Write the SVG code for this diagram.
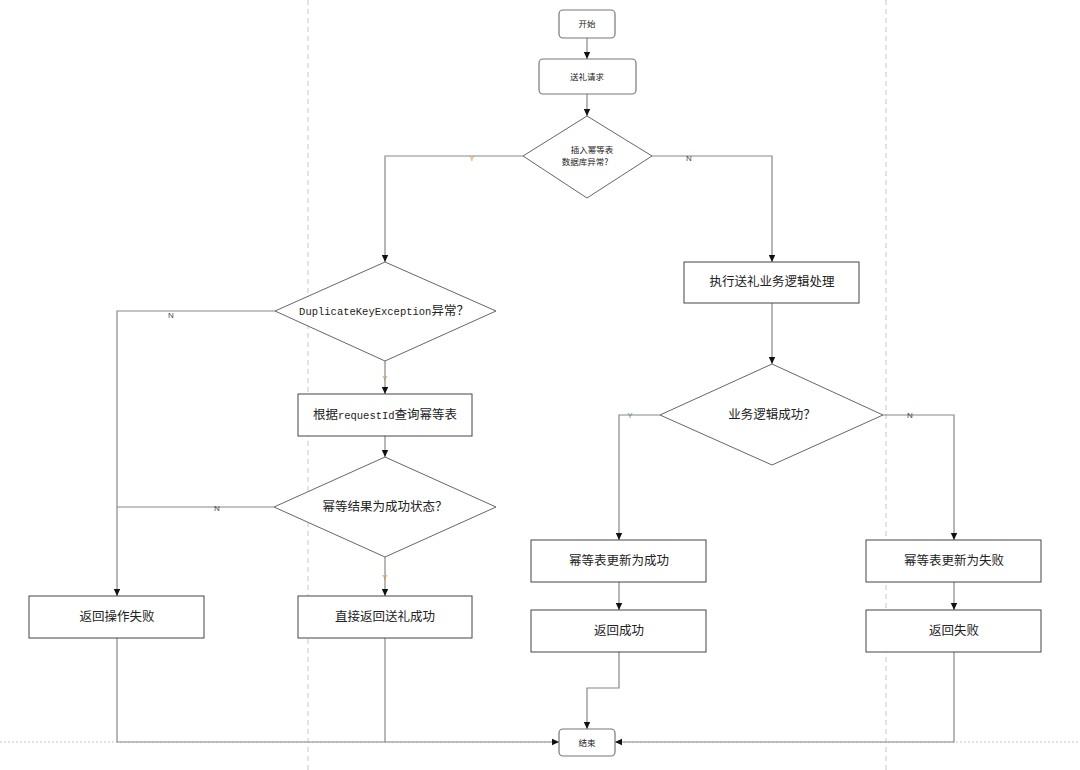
<svg xmlns="http://www.w3.org/2000/svg" width="1080" height="770" viewBox="0 0 1080 770">
<defs>
<marker id="ah" markerWidth="8" markerHeight="8" refX="7" refY="4" orient="auto" markerUnits="userSpaceOnUse">
<path d="M0,0.8 L7,4 L0,7.2 Z" fill="#111"/>
</marker>
<style>
.bg{fill:#fff}
.guide{stroke:#c8c8c8;stroke-width:1;stroke-dasharray:5,4;fill:none}
.hguide{stroke:#c8c8c8;stroke-width:1;stroke-dasharray:2,2;fill:none}
.rr{fill:#fff;stroke:#777;stroke-width:1.2}
.box{fill:#fff;stroke:#444;stroke-width:1}
.dia{fill:#fff;stroke:#666;stroke-width:1}
.c{fill:none;stroke:#888;stroke-width:1.2}
.ca{fill:none;stroke:#888;stroke-width:1.2;marker-end:url(#ah)}
.t{font-family:"Noto Sans CJK SC","Liberation Sans",sans-serif;font-size:12.5px;fill:#222;text-anchor:middle}
.ts{font-family:"Noto Sans CJK SC","Liberation Sans",sans-serif;font-size:8.5px;fill:#222;text-anchor:middle}
.m{font-family:"Liberation Mono",monospace;font-size:10.5px}
.y{font-family:"Liberation Sans",sans-serif;font-size:8px;fill:#d0902a;text-anchor:middle}
.n{font-family:"Liberation Sans",sans-serif;font-size:8px;fill:#2f4f3f;text-anchor:middle}
</style>
</defs>
<rect class="bg" x="0" y="0" width="1080" height="770"/>
<line class="guide" x1="308" y1="0" x2="308" y2="770"/>
<line class="guide" x1="886" y1="0" x2="886" y2="770"/>
<line class="hguide" x1="0" y1="742" x2="1080" y2="742"/>

<g id="connectors">
<line class="ca" x1="587" y1="38" x2="587" y2="59"/>
<line class="ca" x1="587" y1="94" x2="587" y2="116"/>
<polyline class="ca" points="523,156 385,156 385,262"/>
<polyline class="ca" points="652,156 772,156 772,262"/>
<polyline class="ca" points="275,311 117,311 117,596"/>
<line class="ca" x1="385" y1="361" x2="385" y2="394"/>
<line class="ca" x1="385" y1="436" x2="385" y2="457"/>
<polyline class="c" points="274,507 117,507"/>
<line class="ca" x1="385" y1="557" x2="385" y2="596"/>
<line class="ca" x1="772" y1="303" x2="772" y2="364"/>
<polyline class="ca" points="660,415 619,415 619,540"/>
<polyline class="ca" points="883,415 954,415 954,540"/>
<line class="ca" x1="619" y1="582" x2="619" y2="610"/>
<line class="ca" x1="954" y1="582" x2="954" y2="610"/>
<polyline class="ca" points="619,652 619,688 587,688 587,729"/>
<polyline class="ca" points="117,638 117,742 559,742"/>
<polyline class="c" points="385,638 385,742"/>
<polyline class="ca" points="954,652 954,742 615,742"/>
<text class="y" x="472" y="161">Y</text>
<text class="n" x="689" y="161">N</text>
<text class="n" x="171" y="318">N</text>
<text class="y" x="385" y="381">Y</text>
<text class="n" x="217" y="511">N</text>
<text class="y" x="385" y="580">Y</text>
<text class="y" x="630" y="418" style="fill:#4a8ab0">Y</text>
<text class="n" x="910" y="418">N</text>
</g>

<g id="start"><rect class="rr" x="559" y="10" width="56" height="28" rx="4"/><text class="ts" x="587" y="27">开始</text></g>
<g id="request"><rect class="rr" x="539" y="59" width="97" height="35" rx="4"/><text class="ts" x="587" y="80">送礼请求</text></g>
<g id="d1"><polygon class="dia" points="587,116 652,156 587,198 523,156"/><text class="ts" x="592" y="153">插入幂等表</text><text class="ts" x="585" y="165">数据库异常?</text></g>
<g id="exec"><rect class="box" x="684" y="262" width="175" height="41"/><text class="t" x="772" y="286">执行送礼业务逻辑处理</text></g>
<g id="d2"><polygon class="dia" points="385,262 496,311 385,361 275,311"/><text class="t" x="384" y="315"><tspan class="m">DuplicateKeyException</tspan>异常？</text></g>
<g id="query"><rect class="box" x="298" y="394" width="174" height="42"/><text class="t" x="385" y="419">根据<tspan class="m">requestId</tspan>查询幂等表</text></g>
<g id="d3"><polygon class="dia" points="385,457 496,507 385,557 274,507"/><text class="t" x="385" y="511">幂等结果为成功状态？</text></g>
<g id="fail"><rect class="box" x="29" y="596" width="175" height="42"/><text class="t" x="117" y="621">返回操作失败</text></g>
<g id="direct"><rect class="box" x="298" y="596" width="174" height="42"/><text class="t" x="385" y="621">直接返回送礼成功</text></g>
<g id="d4"><polygon class="dia" points="772,364 883,415 772,465 660,415"/><text class="t" x="772" y="419">业务逻辑成功？</text></g>
<g id="upok"><rect class="box" x="531" y="540" width="175" height="42"/><text class="t" x="619" y="565">幂等表更新为成功</text></g>
<g id="retok"><rect class="box" x="531" y="610" width="175" height="42"/><text class="t" x="619" y="635">返回成功</text></g>
<g id="upfail"><rect class="box" x="866" y="540" width="175" height="42"/><text class="t" x="954" y="565">幂等表更新为失败</text></g>
<g id="retfail"><rect class="box" x="866" y="610" width="175" height="42"/><text class="t" x="954" y="635">返回失败</text></g>
<g id="end"><rect class="rr" x="559" y="729" width="56" height="27" rx="4"/><text class="ts" x="587" y="746">结束</text></g>
</svg>
